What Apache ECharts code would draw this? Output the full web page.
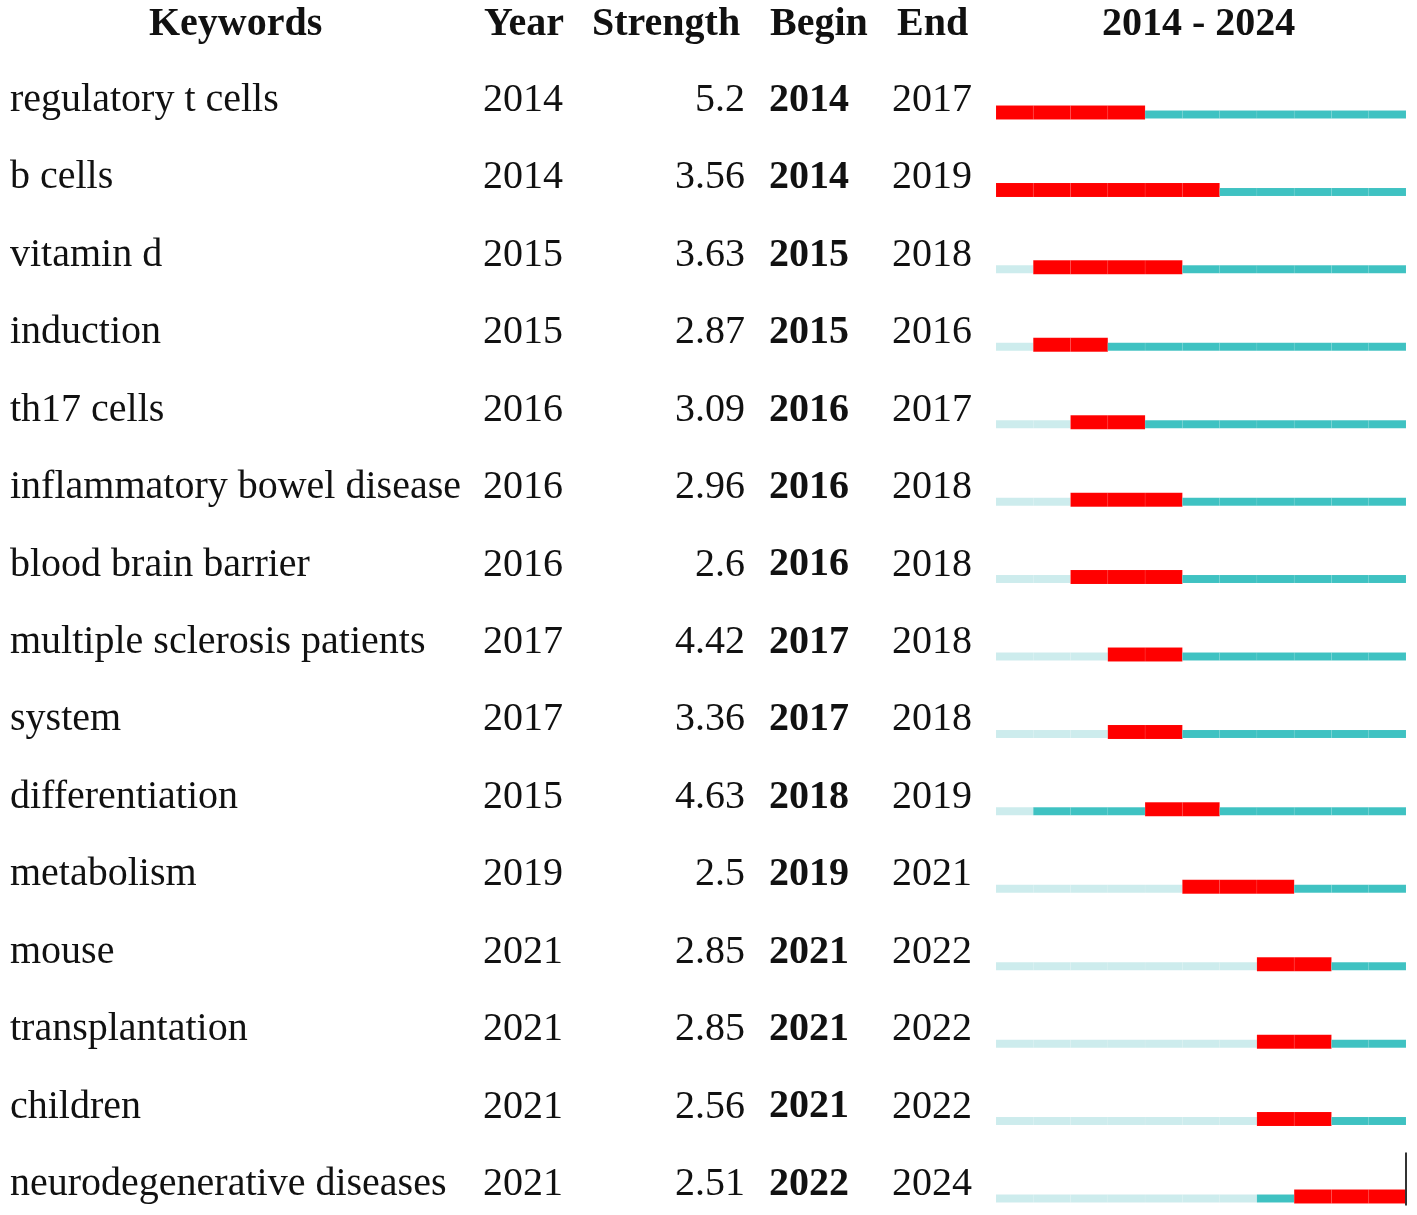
<!DOCTYPE html>
<html>
<head>
<meta charset="utf-8">
<script src="https://cdn.jsdelivr.net/npm/echarts@6/dist/echarts.min.js"></script>
<style>
  html, body { margin: 0; padding: 0; background: #fff; }
  #chart { width: 1417px; height: 1215px; }
</style>
</head>
<body>
<div id="chart"></div>
<script>
// burst table data
const keywords = [
  'regulatory t cells', 'b cells', 'vitamin d', 'induction', 'th17 cells',
  'inflammatory bowel disease', 'blood brain barrier', 'multiple sclerosis patients',
  'system', 'differentiation', 'metabolism', 'mouse', 'transplantation',
  'children', 'neurodegenerative diseases'
];
const years = [2014, 2014, 2015, 2015, 2016, 2016, 2016, 2017, 2017, 2015, 2019, 2021, 2021, 2021, 2021];
const strengths = ['5.2', '3.56', '3.63', '2.87', '3.09', '2.96', '2.6', '4.42', '3.36', '4.63', '2.5', '2.85', '2.85', '2.56', '2.51'];
const begins = [2014, 2014, 2015, 2015, 2016, 2016, 2016, 2017, 2017, 2018, 2019, 2021, 2021, 2021, 2022];
const ends = [2017, 2019, 2018, 2016, 2017, 2018, 2018, 2018, 2018, 2019, 2021, 2022, 2022, 2022, 2024];
const headers = ['Keywords', 'Year', 'Strength', 'Begin', 'End'];
const firstYear = 2014;
const lastYear = 2024;

const FONT = '"Liberation Serif", "Times New Roman", serif';
const RED = '#ff0000';
const TEAL = '#3fc2c2';
const LIGHT = '#cdeced';

const chart = echarts.init(document.getElementById('chart'));

function renderBar(params, api) {
  const row = api.value(1);
  const yc = api.coord([firstYear, row])[1];
  const kids = [];
  for (let yr = firstYear; yr <= lastYear; yr++) {
    const x1 = api.coord([yr, row])[0];
    const x2 = api.coord([yr + 1, row])[0];
    let fill = TEAL, top = yc + 12, h = 8;
    if (yr >= begins[row] && yr <= ends[row]) {
      fill = RED; top = yc + 7; h = 14;
    } else if (yr < years[row]) {
      fill = LIGHT;
    }
    kids.push({
      type: 'rect',
      shape: { x: x1, y: top, width: x2 - x1, height: h },
      style: { fill: fill, stroke: 'rgba(255,255,255,0.1)', lineWidth: 0.6 }
    });
  }
  if (ends[row] === lastYear) {
    const xe = api.coord([lastYear + 1, row])[0];
    kids.push({
      type: 'line',
      shape: { x1: xe, y1: yc - 30, x2: xe, y2: yc + 23 },
      style: { stroke: '#333', lineWidth: 2 }
    });
  }
  return { type: 'group', children: kids };
}

function txt(x, y, s, align, bold) {
  return {
    type: 'text',
    style: {
      x: x, y: y + 2, text: s, fill: '#111',
      font: (bold ? 'bold ' : '') + '40px ' + FONT,
      textAlign: align, textVerticalAlign: 'middle'
    }
  };
}

function renderRow(params, api) {
  const row = api.value(1);
  const yc = api.coord([firstYear, row])[1];
  return {
    type: 'group',
    children: [
      txt(10, yc, keywords[row], 'left', false),
      txt(483, yc, String(years[row]), 'left', false),
      txt(745, yc, strengths[row], 'right', false),
      txt(769, yc, String(begins[row]), 'left', true),
      txt(892, yc, String(ends[row]), 'left', false)
    ]
  };
}

const rowData = keywords.map((k, i) => [firstYear, i]);

function head(x, s) {
  return { type: 'text', left: x, top: 5, style: { text: s, font: 'bold 40px ' + FONT, fill: '#111' } };
}

chart.setOption({
  backgroundColor: '#fff',
  animation: false,
  grid: { left: 996, right: 11, top: 98.5, bottom: 32.5 },
  xAxis: { type: 'value', min: firstYear, max: lastYear + 1, show: false },
  yAxis: {
    type: 'category', data: keywords, inverse: true,
    boundaryGap: false, show: false
  },
  graphic: [
    head(149, headers[0]),
    head(484, headers[1]),
    head(592, headers[2]),
    head(770, headers[3]),
    head(897, headers[4]),
    head(1102, firstYear + ' - ' + lastYear)
  ],
  series: [
    { type: 'custom', renderItem: renderBar, data: rowData, clip: false, silent: true },
    { type: 'custom', renderItem: renderRow, data: rowData, clip: false, silent: true }
  ]
});
</script>
</body>
</html>
